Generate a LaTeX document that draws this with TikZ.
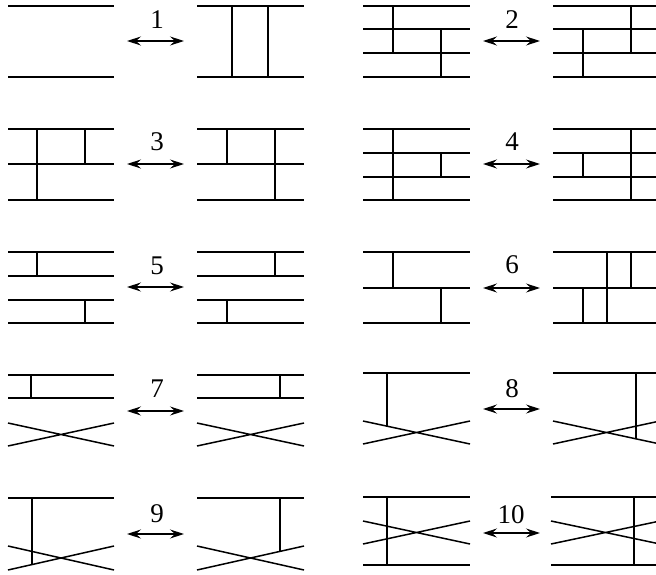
\documentclass[tikz,border=0pt]{standalone}
\usepackage{fontspec}
\setmainfont{Liberation Serif}
\usetikzlibrary{arrows.meta}
\begin{document}
\begin{tikzpicture}[x=1pt,y=-1pt,
  hl/.style={line width=1.5pt},
  vl/.style={line width=1.15pt},
  dbl/.style={line width=1.1pt,{Stealth[length=14pt,width=9pt,inset=5pt]}-{Stealth[length=14pt,width=9pt,inset=5pt]}},
  lab/.style={font=\fontsize{27}{27}\selectfont, anchor=base, inner sep=0pt}]
\useasboundingbox (0,0) rectangle (656,575);
% ---------- 1 ----------
\draw[hl] (8,6)--(114,6) (8,77)--(114,77);
\draw[hl] (197,6)--(304,6) (197,77)--(304,77);
\draw[vl] (232,6)--(232,77) (268,6)--(268,77);
\coordinate (a1l) at (127,41); \coordinate (a1r) at (184,41);
\draw[dbl] (a1l)--(a1r);
\node[lab] (l1) at (157,29) {1};
% ---------- 2 ----------
\draw[hl] (363,6)--(470,6) (363,29)--(470,29) (363,53)--(470,53) (363,77)--(470,77);
\draw[vl] (393,6)--(393,53) (441,29)--(441,77);
\draw[hl] (553,6)--(660,6) (553,29)--(660,29) (553,53)--(660,53) (553,77)--(660,77);
\draw[vl] (631,6)--(631,53) (583,29)--(583,77);
\coordinate (a2l) at (483,41); \coordinate (a2r) at (540,41);
\draw[dbl] (a2l)--(a2r);
\node[lab] (l2) at (512,29) {2};
% ---------- 3 ----------
\draw[hl] (8,129)--(114,129) (8,164)--(114,164) (8,200)--(114,200);
\draw[vl] (37,129)--(37,200) (85,129)--(85,164);
\draw[hl] (197,129)--(304,129) (197,164)--(304,164) (197,200)--(304,200);
\draw[vl] (227,129)--(227,164) (275,129)--(275,200);
\coordinate (a3l) at (127,164); \coordinate (a3r) at (184,164);
\draw[dbl] (a3l)--(a3r);
\node[lab] (l3) at (157,151) {3};
% ---------- 4 ----------
\draw[hl] (363,129)--(470,129) (363,153)--(470,153) (363,177)--(470,177) (363,200)--(470,200);
\draw[vl] (393,129)--(393,200) (441,153)--(441,177);
\draw[hl] (553,129)--(660,129) (553,153)--(660,153) (553,177)--(660,177) (553,200)--(660,200);
\draw[vl] (631,129)--(631,200) (583,153)--(583,177);
\coordinate (a4l) at (483,164); \coordinate (a4r) at (540,164);
\draw[dbl] (a4l)--(a4r);
\node[lab] (l4) at (512,151) {4};
% ---------- 5 ----------
\draw[hl] (8,252)--(114,252) (8,276)--(114,276) (8,300)--(114,300) (8,323)--(114,323);
\draw[vl] (37,252)--(37,276) (85,300)--(85,323);
\draw[hl] (197,252)--(304,252) (197,276)--(304,276) (197,300)--(304,300) (197,323)--(304,323);
\draw[vl] (275,252)--(275,276) (227,300)--(227,323);
\coordinate (a5l) at (127,287); \coordinate (a5r) at (184,287);
\draw[dbl] (a5l)--(a5r);
\node[lab] (l5) at (157,274) {5};
% ---------- 6 ----------
\draw[hl] (363,252)--(470,252) (363,288)--(470,288) (363,323)--(470,323);
\draw[vl] (393,252)--(393,288) (441,288)--(441,323);
\draw[hl] (553,252)--(660,252) (553,288)--(660,288) (553,323)--(660,323);
\draw[vl] (607,252)--(607,323) (631,252)--(631,288) (583,288)--(583,323);
\coordinate (a6l) at (483,288); \coordinate (a6r) at (540,288);
\draw[dbl] (a6l)--(a6r);
\node[lab] (l6) at (512,273) {6};
% ---------- 7 ----------
\draw[hl] (8,375)--(114,375) (8,398)--(114,398);
\draw[vl] (31,375)--(31,398);
\draw[hl] (8,423)--(114,446) (8,446)--(114,423);
\draw[hl] (197,375)--(304,375) (197,398)--(304,398);
\draw[vl] (280,375)--(280,398);
\draw[hl] (197,423)--(304,446) (197,446)--(304,423);
\coordinate (a7l) at (127,411); \coordinate (a7r) at (184,411);
\draw[dbl] (a7l)--(a7r);
\node[lab] (l7) at (157,397) {7};
% ---------- 8 ----------
\draw[hl] (363,373)--(470,373);
\draw[hl] (363,421)--(470,444) (363,444)--(470,421);
\draw[vl] (387,373)--(387,426);
\draw[hl] (553,373)--(660,373);
\draw[hl] (553,421)--(660,444) (553,444)--(660,421);
\draw[vl] (636,373)--(636,439);
\coordinate (a8l) at (483,409); \coordinate (a8r) at (540,409);
\draw[dbl] (a8l)--(a8r);
\node[lab] (l8) at (512,397) {8};
% ---------- 9 ----------
\draw[hl] (8,498)--(114,498);
\draw[hl] (8,546)--(114,570) (8,570)--(114,546);
\draw[vl] (32,498)--(32,565);
\draw[hl] (197,498)--(304,498);
\draw[hl] (197,546)--(304,570) (197,570)--(304,546);
\draw[vl] (280,498)--(280,551);
\coordinate (a9l) at (127,534); \coordinate (a9r) at (184,534);
\draw[dbl] (a9l)--(a9r);
\node[lab] (l9) at (157,522) {9};
% ---------- 10 ----------
\draw[hl] (363,497)--(470,497) (363,565)--(470,565);
\draw[hl] (363,521)--(470,544) (363,544)--(470,521);
\draw[vl] (387,497)--(387,565);
\draw[hl] (551,497)--(660,497) (551,565)--(660,565);
\draw[hl] (551,521)--(660,544) (551,544)--(660,521);
\draw[vl] (634,497)--(634,565);
\coordinate (a10l) at (483,533); \coordinate (a10r) at (540,533);
\draw[dbl] (a10l)--(a10r);
\node[lab] (l10) at (511,523) {10};
\end{tikzpicture}
\end{document}
